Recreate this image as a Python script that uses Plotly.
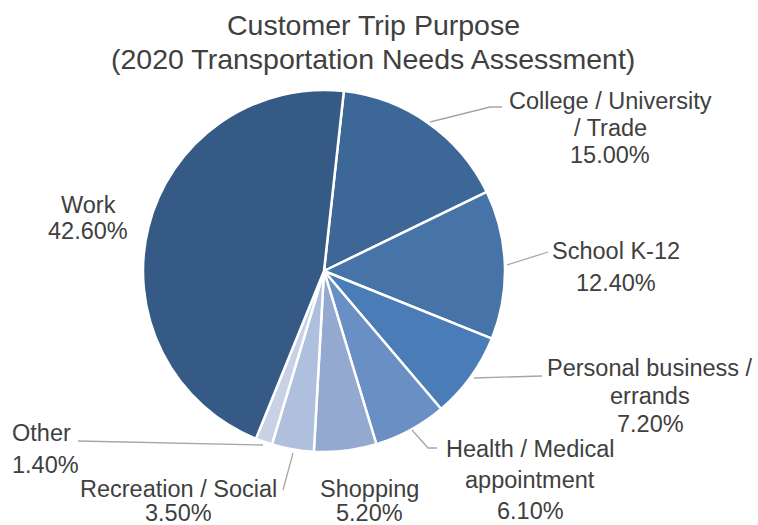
import plotly.graph_objects as go

W, H = 758, 525

# data, in the order the slices run clockwise from the top
categories = ["College / University / Trade", "School K-12", "Personal business / errands",
              "Health / Medical appointment", "Shopping", "Recreation / Social", "Other", "Work"]
shares = [15.0, 12.4, 7.2, 6.1, 5.2, 3.5, 1.4, 42.6]
colors = ["#3d6796", "#4673a8", "#4a7cb8", "#6a8fc4", "#94a9d0", "#afc0de", "#c8d1e6", "#365a86"]

# how each label is broken onto lines
label_lines = {
    "College / University / Trade": ["College / University", "/ Trade"],
    "School K-12": ["School K-12"],
    "Personal business / errands": ["Personal business /", "errands"],
    "Health / Medical appointment": ["Health / Medical", "appointment"],
    "Shopping": ["Shopping"],
    "Recreation / Social": ["Recreation / Social"],
    "Other": ["Other"],
    "Work": ["Work"],
}


def px(x, y):
    return x / W, 1 - y / H


# pie placement (pixels): centre and radius
cx, cy, r = 324, 271, 181

fig = go.Figure(go.Pie(
    labels=categories,
    values=shares,
    sort=False,
    direction="clockwise",
    rotation=6.3,
    marker=dict(colors=colors, line=dict(color="white", width=2.5)),
    textinfo="none",
    hoverinfo="label+value",
    domain=dict(x=[(cx - r) / W, (cx + r) / W], y=[1 - (cy + r) / H, 1 - (cy - r) / H]),
))

# label placement in pixels: x (centre, or left edge for "left"), y of each line, alignment
label_pos = {
    "College / University / Trade": (610, [101, 128, 155], "center"),
    "School K-12": (616, [251, 283], "center"),
    "Personal business / errands": (650, [368, 396, 424], "center"),
    "Health / Medical appointment": (530, [449, 480, 511], "center"),
    "Shopping": (369, [489, 513], "center"),
    "Recreation / Social": (178, [489, 513], "center"),
    "Other": (10, [433, 465], "left"),
    "Work": (88, [205, 231], "center"),
}

label_font = dict(family="Liberation Sans, Arial, sans-serif", size=23.5, color="#404040")
annotations = []
for cat, val in zip(categories, shares):
    x, ys, align = label_pos[cat]
    lines = label_lines[cat] + [f"{val:.2f}%"]
    for line, y in zip(lines, ys):
        ax, ay = px(x, y)
        annotations.append(dict(
            x=ax, y=ay, xref="paper", yref="paper", text=line,
            showarrow=False, xanchor="center" if align == "center" else "left",
            yanchor="middle", font=label_font,
        ))

title_lines = ["Customer Trip Purpose", "(2020 Transportation Needs Assessment)"]
for line, y in zip(title_lines, [25, 59]):
    tx, ty = px(373, y)
    annotations.append(dict(
        x=tx, y=ty, xref="paper", yref="paper", text=line,
        showarrow=False, xanchor="center", yanchor="middle",
        font=dict(family="Liberation Sans, Arial, sans-serif", size=28.5, color="#404040"),
    ))

# leader lines (pixel polylines)
leaders = [
    [(430, 122), (490, 107), (502, 107)],
    [(507, 265), (548, 252)],
    [(474, 378), (542, 376)],
    [(412, 430), (428, 448), (437, 448)],
    [(293, 453), (283, 490)],
    [(263, 445), (78, 441)],
]
shapes = []
for pts in leaders:
    path = "M " + " L ".join(f"{px(x, y)[0]},{px(x, y)[1]}" for x, y in pts)
    shapes.append(dict(type="path", path=path, xref="paper", yref="paper",
                       line=dict(color="#a6a6a6", width=1.3)))

fig.update_layout(
    width=W, height=H,
    margin=dict(l=0, r=0, t=0, b=0),
    paper_bgcolor="white",
    plot_bgcolor="white",
    showlegend=False,
    annotations=annotations,
    shapes=shapes,
)

fig.write_html("out.html", config={"displayModeBar": False},
               post_script="document.body.style.margin='0';")
